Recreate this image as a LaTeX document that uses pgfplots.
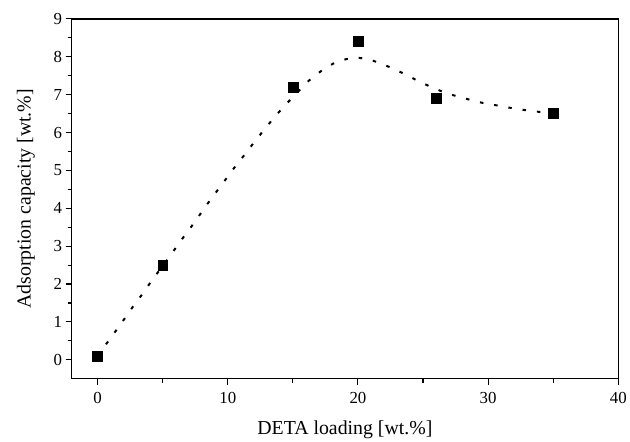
\documentclass[border=0pt]{standalone}
\usepackage{pgfplots}
\pgfplotsset{compat=1.18}
\usepackage{fontspec}
\setmainfont{Liberation Serif}

\begin{document}
\begin{tikzpicture}[x=1bp,y=1bp]
  \begin{axis}[
      scale only axis,
      width=550bp, height=362bp,
      xmin=-2, xmax=40,
      ymin=-0.5, ymax=9,
      xtick={0,10,20,30,40},
      minor xtick={5,15,25,35},
      ytick={0,1,...,9},
      minor ytick={0.5,1.5,...,8.5},
      xtick pos=bottom, ytick pos=left,
      tick align=outside,
      major tick length=6bp,
      minor tick length=4bp,
      axis line style={line width=1.3bp},
      every tick/.style={line width=1.1bp,black},
      /pgf/number format/assume math mode=true,
      tick label style={font=\fontsize{17}{20}\selectfont},
      xticklabel style={yshift=-4bp},
      label style={font=\fontsize{20}{24}\selectfont},
      xlabel={DETA loading [wt.\%]},
      ylabel={Adsorption capacity [wt.\%]},
      xlabel style={yshift=-10bp},
      ylabel style={yshift=12bp},
      clip=false,
    ]
    % fitted trend
    \addplot[black, line width=2bp, smooth, tension=0.3,
             dash pattern=on 3.5bp off 11bp] coordinates {
      (0,0.1) (0.67,0.42) (1.41,0.77) (2.1,1.1) (2.79,1.44) (3.47,1.75)
      (4.18,2.1) (5.59,2.75) (6.27,3.09) (6.98,3.41) (7.67,3.74)
      (8.34,4.07) (9.07,4.41) (9.79,4.74) (10.5,5.07) (11.26,5.40)
      (12.0,5.73) (12.76,6.06) (13.55,6.39) (14.4,6.72) (15.3,7.04)
      (16.2,7.36) (17.16,7.62) (18.1,7.82) (19.12,7.94) (20.1,7.97)
      (21.03,7.91) (22.0,7.79) (22.94,7.65) (23.9,7.49) (24.85,7.32)
      (25.8,7.18) (26.76,7.04) (27.7,6.95) (28.66,6.86) (29.6,6.78)
      (30.6,6.72) (31.56,6.66) (32.5,6.61) (33.45,6.56) (34.5,6.53)
      (35,6.5)
    };
    % measured points
    \addplot[only marks, mark=square*, mark size=5bp, black] coordinates {
      (0,0.1) (5,2.5) (15,7.2) (20,8.4) (26,6.9) (35,6.5)
    };
    \coordinate (bl) at (rel axis cs:-0.1309,-0.1575);
    \coordinate (tr) at (rel axis cs:1.0145,1.0525);
  \end{axis}
  \path (bl) rectangle (tr);
\end{tikzpicture}
\end{document}
